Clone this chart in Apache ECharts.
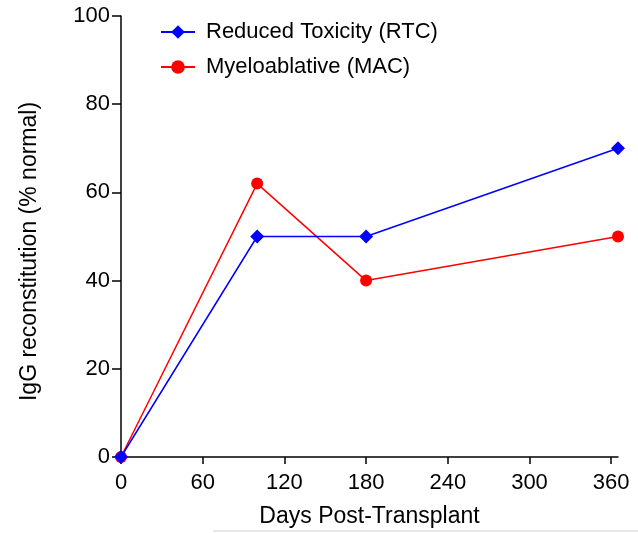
<!DOCTYPE html>
<html>
<head>
<meta charset="utf-8">
<script src="https://cdn.jsdelivr.net/npm/echarts@6/dist/echarts.min.js"></script>
<style>html,body{margin:0;padding:0;background:#fff}#c{width:638px;height:533px}</style>
</head>
<body>
<div id="c"></div>
<script>
const days = [0, 100, 180, 365];
const rtcValues = [0, 50, 50, 70];
const macValues = [0, 62, 40, 50];
const xTicks = [0, 60, 120, 180, 240, 300, 360];
const seriesNames = ['Reduced Toxicity (RTC)', 'Myeloablative (MAC)'];

const font = 'Liberation Sans, Arial, sans-serif';
const chart = echarts.init(document.getElementById('c'), null, {renderer: 'canvas'});
chart.setOption({
  animation: false,
  backgroundColor: '#fff',
  textStyle: {fontFamily: font},
  grid: {left: 121, right: 20, top: 16, bottom: 76, containLabel: false},
  legend: {
    orient: 'vertical', left: 155, top: 16, itemWidth: 34, itemHeight: 17, itemGap: 13,
    textStyle: {fontFamily: font, fontSize: 22, color: '#000', padding: [0, 0, 0, 6]},
    data: seriesNames
  },
  xAxis: {
    type: 'value', min: 0, max: 365,
    name: 'Days Post-Transplant', nameLocation: 'middle', nameGap: 48,
    nameTextStyle: {fontFamily: font, fontSize: 23, color: '#000'},
    axisLine: {show: true, lineStyle: {color: '#000', width: 1.5}},
    axisTick: {show: true, length: 7, lineStyle: {color: '#000', width: 1.5}, customValues: xTicks},
    axisLabel: {fontFamily: font, fontSize: 22, color: '#000', margin: 15, customValues: xTicks},
    splitLine: {show: false}
  },
  yAxis: {
    type: 'value', min: 0, max: 100, interval: 20,
    name: 'IgG reconstitution (% normal)', nameLocation: 'middle', nameGap: 80,
    nameTextStyle: {fontFamily: font, fontSize: 23, color: '#000', padding: [0, 0, 0, -30]},
    axisLine: {show: true, lineStyle: {color: '#000', width: 1.5}},
    axisTick: {show: true, length: 9, lineStyle: {color: '#000', width: 1.5}},
    axisLabel: {fontFamily: font, fontSize: 22, color: '#000', margin: 11},
    splitLine: {show: false}
  },
  graphic: [{
    type: 'line', shape: {x1: 213, y1: 531, x2: 638, y2: 531},
    style: {stroke: '#d0d0d0', lineWidth: 1}, silent: true
  }],
  series: [
    {
      name: seriesNames[1], type: 'line',
      data: days.map((d, i) => [d, macValues[i]]),
      symbol: 'circle', symbolSize: 12,
      lineStyle: {color: '#ff0000', width: 1.5},
      itemStyle: {color: '#ff0000'}, z: 2
    },
    {
      name: seriesNames[0], type: 'line',
      data: days.map((d, i) => [d, rtcValues[i]]),
      symbol: 'diamond', symbolSize: 14,
      lineStyle: {color: '#0000ff', width: 1.5},
      itemStyle: {color: '#0000ff'}, z: 3
    }
  ]
});
</script>
</body>
</html>
